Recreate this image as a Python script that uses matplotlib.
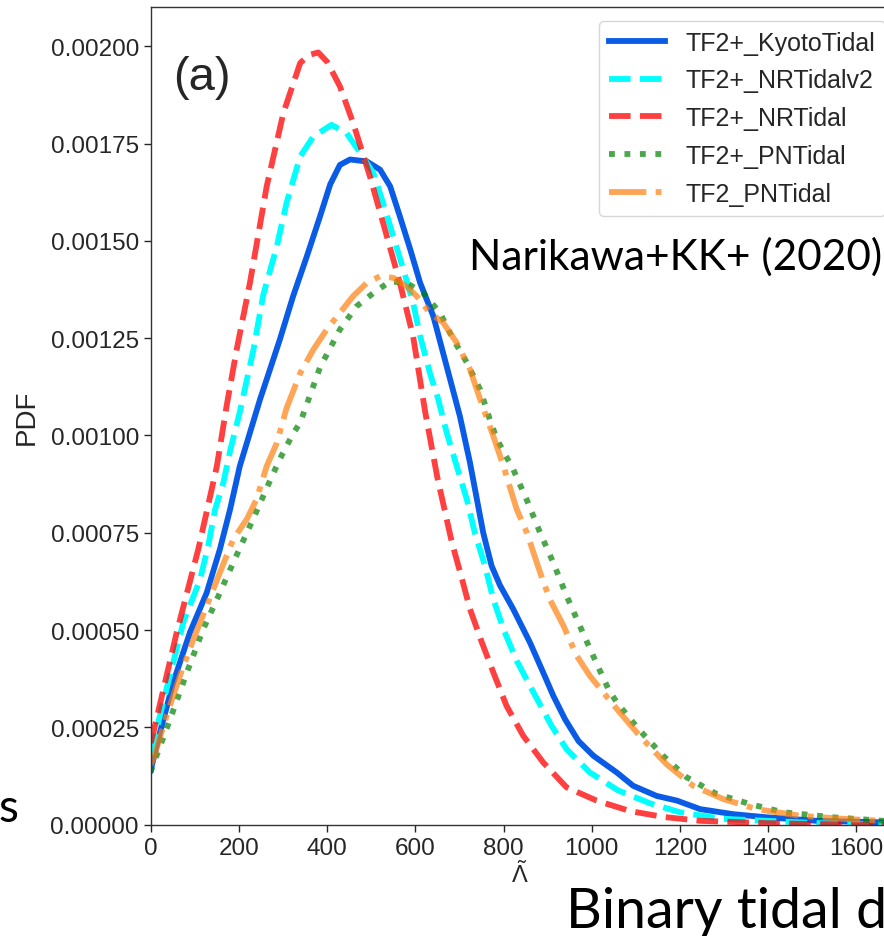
#!/usr/bin/env python3
"""
Tidal deformability posteriors - PDF of Lambda-tilde for five waveform models
"""

import numpy as np
import matplotlib
matplotlib.use("Agg")
import matplotlib.pyplot as plt
from matplotlib.ticker import FormatStrFormatter

# ----
# Data (x = Lambda-tilde, y = PDF in units of 1e-5)
# ----
kyoto_x = [0, 21, 51, 89, 127, 157, 180, 202, 225, 248, 263, 293, 323, 354, 384,
           407, 429, 452, 490, 520, 543, 565, 588, 611, 641, 671, 701, 724, 739,
           754, 773, 792, 822, 860, 890, 913, 940, 970, 1004, 1057, 1094, 1147,
           1193, 1246, 1321, 1397, 1510, 1661, 1800]
kyoto_y = [14.0, 23.7, 36.5, 49.4, 59.6, 70.8, 81.0, 92.1, 100.7, 109.3, 114.4,
           124.7, 135.8, 146.0, 156.3, 164.5, 169.5, 170.9, 170.4, 168.3, 164.0,
           156.3, 148.0, 139.2, 130.6, 117.8, 105.0, 93.0, 84.0, 75.0, 66.5, 61.5,
           55.4, 46.8, 39.1, 33.1, 27.0, 21.5, 17.7, 13.4, 10.0, 7.4, 6.2, 4.0,
           2.7, 1.9, 1.0, 0.6, 0.2]

nrv2_x = [0, 25, 74, 112, 131, 146, 165, 180, 202, 233, 255, 286, 308, 339, 369,
          410, 444, 475, 505, 527, 550, 573, 595, 611, 633, 652, 671, 694, 717,
          735, 758, 777, 800, 830, 866, 909, 943, 996, 1060, 1132, 1200, 1298,
          1397, 1510, 1650, 1800]
nrv2_y = [18.0, 30.0, 52.0, 63.0, 72.0, 81.0, 88.0, 96.0, 106.0, 122.0, 136.0,
          148.6, 159.7, 171.7, 176.8, 179.8, 177.7, 172.6, 167.4, 159.7, 151.2,
          142.6, 134.1, 125.5, 116.1, 109.3, 100.8, 92.1, 83.5, 75.0, 66.5, 57.9,
          50.2, 42.1, 34.4, 25.4, 19.4, 13.4, 8.8, 5.5, 3.2, 1.5, 1.0, 0.4, 0.15,
          0.0]

nr_x = [0, 6, 59, 108, 150, 172, 195, 225, 263, 301, 339, 360, 380, 400, 429,
        459, 497, 527, 565, 595, 622, 650, 683, 705, 724, 751, 777, 807, 845,
        890, 943, 1011, 1087, 1162, 1246, 1397, 1550, 1800]
nr_y = [21.0, 23.7, 49.4, 70.8, 92.1, 107.5, 122.1, 139.2, 164.0, 182.9, 195.7,
        197.8, 198.4, 196.0, 189.7, 180.3, 166.6, 154.6, 139.2, 125.5, 106.3,
        89.2, 72.5, 63.5, 55.4, 46.8, 39.1, 30.5, 22.8, 16.0, 9.6, 6.2, 3.5,
        2.0, 1.0, 0.4, 0.1, 0.0]

pn_x = [0, 2, 44, 82, 119, 157, 187, 218, 240, 271, 293, 323, 339, 384, 429, 467,
        505, 543, 580, 618, 656, 686, 717, 747, 769, 785, 822, 853, 883, 913,
        943, 973, 1004, 1038, 1057, 1106, 1162, 1215, 1283, 1359, 1434, 1548,
        1661, 1800]
pn_y = [13.5, 14.3, 27.1, 39.1, 50.2, 59.6, 67.3, 75.0, 80.5, 88.5, 94.0, 100.5,
        103.3, 117.5, 127.2, 133.2, 136.6, 139.6, 139.2, 136.6, 131.5, 124.7,
        118.7, 111.8, 104.1, 99.0, 91.3, 83.4, 75.0, 67.3, 58.8, 51.1, 43.2,
        34.8, 31.4, 24.6, 17.7, 12.2, 7.9, 5.3, 3.2, 1.9, 1.0, 0.3]

tf2_x = [0, 6, 36, 66, 97, 127, 157, 187, 218, 240, 263, 286, 308, 339, 369, 399,
         429, 459, 490, 520, 550, 580, 603, 633, 663, 694, 724, 747, 777, 800,
         830, 853, 883, 905, 936, 966, 996, 1026, 1064, 1109, 1170, 1230, 1298,
         1374, 1472, 1586, 1661, 1800]
tf2_y = [15.5, 16.9, 28.0, 38.2, 47.7, 56.2, 64.8, 73.3, 78.5, 83.6, 92.1, 98.1,
         107.0, 116.0, 122.1, 127.2, 131.5, 135.8, 139.2, 140.9, 140.5, 138.3,
         135.8, 131.5, 129.0, 123.8, 117.0, 109.3, 99.8, 92.1, 81.0, 75.0, 64.8,
         57.9, 51.1, 43.4, 38.2, 34.0, 28.8, 22.8, 15.5, 10.0, 6.6, 4.0, 2.3,
         1.4, 1.0, 0.3]

labels = ['TF2+_KyotoTidal', 'TF2+_NRTidalv2', 'TF2+_NRTidal', 'TF2+_PNTidal',
          'TF2_PNTidal']
x_ticks = [0, 200, 400, 600, 800, 1000, 1200, 1400, 1600]
y_ticks = [0.0, 0.00025, 0.0005, 0.00075, 0.001, 0.00125, 0.0015, 0.00175, 0.002]


def plot_pdf(output_path="out.png"):
    """Draw the five PDFs"""

    plt.rcParams['font.family'] = ['Liberation Sans', 'DejaVu Sans']
    plt.rcParams['mathtext.fontset'] = 'custom'
    plt.rcParams['mathtext.rm'] = 'Liberation Sans'
    plt.rcParams['mathtext.it'] = 'Liberation Sans'

    fig = plt.figure(figsize=(8.84, 9.37), dpi=100)
    W, H = 884.0, 937.0
    left, bottom, right, top = 150.7, 825.7, 888.0, 8.3
    ax = fig.add_axes([left / W, 1 - bottom / H, (right - left) / W, (bottom - top) / H])

    scale = 1e-5
    lw = 4.2
    ax.plot(kyoto_x, np.array(kyoto_y) * scale, '-', color='#0a5ce6', lw=lw, label=labels[0])
    ax.plot(nrv2_x, np.array(nrv2_y) * scale, '--', color='cyan', lw=lw, label=labels[1])
    ax.plot(nr_x, np.array(nr_y) * scale, '--', color='red', alpha=0.75, lw=lw, label=labels[2])
    ax.plot(pn_x, np.array(pn_y) * scale, ':', color='green', alpha=0.7, lw=lw, label=labels[3])
    ax.plot(tf2_x, np.array(tf2_y) * scale, '-.', color='tab:orange', alpha=0.7, lw=lw, label=labels[4])

    ax.set_xlim(0, (right - left) / 0.441)
    ax.set_ylim(0, 0.0021)
    ax.set_xticks(x_ticks)
    ax.set_yticks(y_ticks)
    ax.yaxis.set_major_formatter(FormatStrFormatter('%.5f'))
    ax.tick_params(labelsize=17.5, colors='.15', length=5, width=1)
    for s in ax.spines.values():
        s.set_color('.2')
        s.set_linewidth(1)

    ax.set_xlabel(r'$\tilde{\Lambda}$', fontsize=17, color='.15', labelpad=1)
    ax.set_ylabel('PDF', fontsize=20, color='.15', labelpad=8)

    ax.text(0.03, 0.9, '(a)', transform=ax.transAxes, fontsize=34, color='.15')

    leg = ax.legend(loc='upper left', bbox_to_anchor=(599 / W, 1 - 21.7 / H),
                    bbox_transform=fig.transFigure, borderaxespad=0,
                    fontsize=18, handlelength=2.25, labelspacing=0.55,
                    edgecolor='#cccccc')
    for t in leg.get_texts():
        t.set_color('.15')

    # ----
    # Slide annotations around the axes
    # ----
    fig.text(469 / W, 1 - 270 / H, 'Narikawa+KK+ (2020)', fontsize=30.5,
             family='Lato', color='black')
    fig.text(566 / W, 1 - 928 / H, 'Binary tidal deformability', fontsize=40,
             family='Lato', color='black')
    fig.text(-1 / W, 1 - 822 / H, 's', fontsize=33, family='Lato', color='black')

    fig.savefig(output_path, dpi=100)
    plt.close(fig)


def main():
    plot_pdf()


if __name__ == "__main__":
    main()
